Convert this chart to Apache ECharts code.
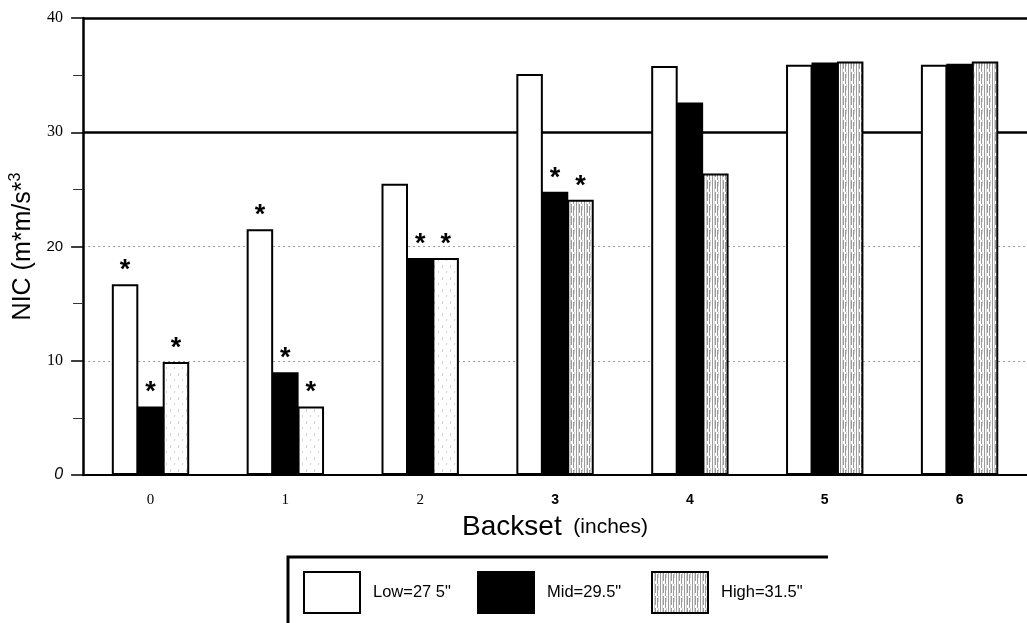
<!DOCTYPE html>
<html><head><meta charset="utf-8">
<script src="https://cdn.jsdelivr.net/npm/echarts@6/dist/echarts.min.js"></script>
<style>html,body{margin:0;padding:0;background:#fff}#c{width:1027px;height:623px}</style>
</head><body><div id="c"></div>
<script>
const categories = ['0', '1', '2', '3', '4', '5', '6'];
const seriesNames = ['Low=27 5"', 'Mid=29.5"', 'High=31.5"'];
const lowValues  = [16.7, 21.5, 25.5, 35.1, 35.8, 35.9, 35.9];
const midValues  = [6.0, 9.0, 19.0, 24.8, 32.6, 36.1, 36.0];
const highValues = [9.9, 6.0, 19.0, 24.1, 26.4, 36.2, 36.2];
const lowStar  = [1, 1, 0, 0, 0, 0, 0];
const midStar  = [1, 1, 1, 1, 0, 0, 0];
const highStar = [1, 1, 1, 1, 0, 0, 0];
const yTicks = [0, 10, 20, 30, 40];

function makePattern(dense) {
  const c = document.createElement('canvas');
  c.width = 8; c.height = 12;
  const g = c.getContext('2d');
  g.fillStyle = '#fff'; g.fillRect(0, 0, 8, 12);
  if (dense) {
    g.fillStyle = '#9a9a9a';
    g.fillRect(0, 0, 1, 12); g.fillRect(3, 0, 1, 9); g.fillRect(5, 2, 1, 10);
    g.fillStyle = '#cfcfcf'; g.fillRect(2, 0, 1, 12); g.fillRect(6, 0, 1, 6);
  } else {
    g.fillStyle = '#d0d0d0';
    g.fillRect(2, 1, 1, 3); g.fillRect(6, 7, 1, 2);
  }
  return c;
}
const patSparse = makePattern(false);
const patDense = makePattern(true);

const chart = echarts.init(document.getElementById('c'), null, {renderer: 'canvas'});
const FONT = '"Liberation Sans", Arial, sans-serif';
const SERIF = '"Liberation Serif", "Times New Roman", serif';

function starLabel(flags) {
  return {
    show: true, position: 'top', distance: 0,
    formatter: p => flags[p.dataIndex] ? '*' : '',
    fontSize: 27, fontWeight: 'bold', color: '#000', fontFamily: FONT
  };
}
const barCommon = {type: 'bar', barWidth: 26.5, barGap: '-4%', barCategoryGap: '40%'};

const option = {
  animation: false,
  backgroundColor: '#fff',
  grid: {left: 81, top: 18, width: 950, height: 457, containLabel: false},
  xAxis: {
    type: 'category', data: categories,
    name: '{b|Backset}{s|  (inches)}', nameLocation: 'middle', nameGap: 35,
    nameTextStyle: {
      color: '#000', fontFamily: FONT, fontSize: 21,
      rich: {
        b: {fontSize: 28, fontFamily: FONT, color: '#000'},
        s: {fontSize: 21, fontFamily: FONT, color: '#000'}
      }
    },
    axisLine: {lineStyle: {color: '#000', width: 2}},
    axisTick: {show: false},
    axisLabel: {
      margin: 18,
      formatter: v => (+v <= 2 ? '{s|' + v + '}' : '{b|' + v + '}'),
      rich: {
        s: {fontFamily: SERIF, fontSize: 15, color: '#000'},
        b: {fontFamily: FONT, fontSize: 14, fontWeight: 'bold', color: '#000'}
      }
    }
  },
  yAxis: [{
    type: 'value', min: 0, max: 40, interval: 10,
    name: 'NIC (m*m/s*{sup|3}', nameLocation: 'middle', nameGap: 42, nameRotate: 90,
    nameTextStyle: {
      fontSize: 25, color: '#000', fontFamily: FONT,
      rich: {sup: {fontSize: 16, verticalAlign: 'top', padding: [0, 0, 14, 0], fontFamily: FONT, color: '#000'}}
    },
    axisLine: {show: true, lineStyle: {color: '#000', width: 2.5}},
    axisTick: {show: true, inside: false, length: 12, lineStyle: {color: '#000', width: 1.5}},
    minorTick: {show: true, splitNumber: 2, length: 10, lineStyle: {color: '#333', width: 1}},
    axisLabel: {
      margin: 20,
      formatter: v => {
        if (v === 0) return '{i|0}';
        if (v === 20) return '{a|20}';
        return '{s|' + v + '}';
      },
      rich: {
        i: {fontFamily: FONT, fontStyle: 'italic', fontSize: 16, color: '#000'},
        a: {fontFamily: FONT, fontSize: 15, color: '#000'},
        s: {fontFamily: SERIF, fontSize: 16, color: '#000'}
      }
    },
    splitLine: {show: true, lineStyle: {color: ['none', '#9a9a9a', '#9a9a9a', 'none', 'none'], type: [2, 3], width: 1}}
  }, {
    type: 'value', min: 0, max: 40, interval: 10, position: 'left',
    axisLine: {show: false}, axisTick: {show: false}, axisLabel: {show: false},
    splitLine: {show: true, lineStyle: {color: ['none', 'none', 'none', '#000', '#000'], type: 'solid', width: 2.5}}
  }],
  legend: [0, 1, 2].map(i => ({
    data: [seriesNames[i]],
    left: [303, 477, 651][i], top: 571, padding: 0,
    icon: 'rect', itemWidth: 56, itemHeight: 41,
    itemStyle: {borderColor: '#000', borderWidth: 2},
    textStyle: {fontSize: 16.5, color: '#000', fontFamily: FONT, padding: [0, 0, 0, 8]},
    selectedMode: false
  })),
  graphic: [{
    type: 'polyline', silent: true,
    shape: {points: [[288, 623], [288, 557], [828, 557]]},
    style: {stroke: '#000', lineWidth: 3, fill: 'none'}
  }],
  series: [
    Object.assign({}, barCommon, {
      name: seriesNames[0],
      data: lowValues,
      itemStyle: {color: '#fff', borderColor: '#000', borderWidth: 2},
      label: starLabel(lowStar)
    }),
    Object.assign({}, barCommon, {
      name: seriesNames[1],
      data: midValues,
      itemStyle: {color: '#000', borderColor: '#000', borderWidth: 2},
      label: starLabel(midStar)
    }),
    Object.assign({}, barCommon, {
      name: seriesNames[2],
      data: highValues.map((v, i) => ({
        value: v,
        itemStyle: {color: {image: i <= 2 ? patSparse : patDense, repeat: 'repeat'}}
      })),
      itemStyle: {color: {image: patDense, repeat: 'repeat'}, borderColor: '#000', borderWidth: 2},
      label: starLabel(highStar)
    })
  ]
};
chart.setOption(option);
</script></body></html>
